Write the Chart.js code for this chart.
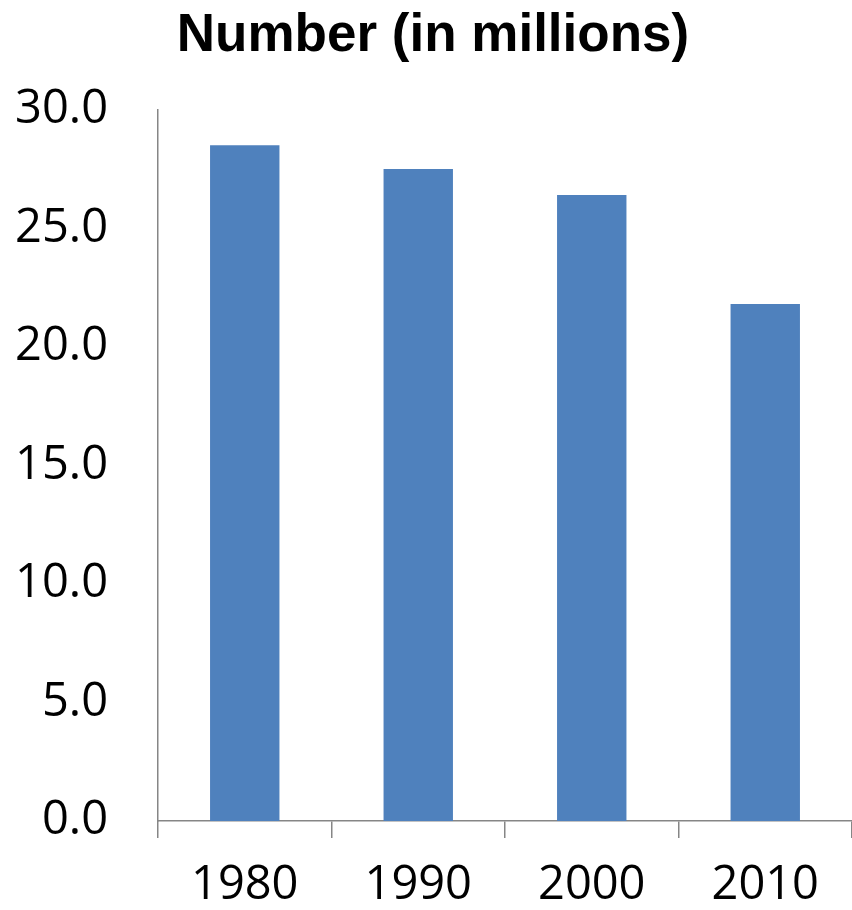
<!DOCTYPE html>
<html>
<head>
<meta charset="utf-8">
<title>Number (in millions)</title>
<script src="https://cdn.jsdelivr.net/npm/chart.js@4.4.1/dist/chart.umd.min.js"></script>
<style>
  html, body { margin: 0; padding: 0; background: #fff; overflow: hidden; }
  #wrap { width: 852px; height: 910px; position: relative; }
</style>
</head>
<body>
<div id="wrap"><canvas id="numChart"></canvas></div>
<script>
const years = ['1980', '1990', '2000', '2010'];
const numbers = [28.5, 27.5, 26.4, 21.8];
const yMin = 0;
const yMax = 30;
const yStep = 5;

const axisGray = '#868686';
const barBlue = '#4F81BD';

new Chart(document.getElementById('numChart'), {
  type: 'bar',
  data: {
    labels: years,
    datasets: [{
      label: 'Number (in millions)',
      data: numbers,
      backgroundColor: barBlue,
      barPercentage: 0.4,
      categoryPercentage: 1.0
    }]
  },
  options: {
    responsive: true,
    maintainAspectRatio: false,
    animation: false,
    layout: { padding: { left: 14, right: 0, top: 0, bottom: 0 } },
    plugins: {
      legend: { display: false },
      tooltip: { enabled: false },
      title: {
        display: true,
        text: 'Number (in millions)',
        color: '#000',
        font: { family: '"Liberation Sans", Arial, sans-serif', size: 53, weight: 'bold', lineHeight: 1.2 },
        padding: { top: 5, bottom: 41 }
      }
    },
    scales: {
      x: {
        offset: true,
        grid: {
          display: true,
          drawOnChartArea: false,
          drawTicks: true,
          tickLength: 17,
          color: axisGray,
          lineWidth: 1.5
        },
        border: { display: true, color: axisGray, width: 1.5 },
        ticks: {
          color: '#000',
          padding: 24,
          font: { family: '"Open Sans", sans-serif', size: 47, lineHeight: 1.0 }
        },
        afterFit: s => { s.height = 89; }
      },
      y: {
        min: yMin,
        max: yMax,
        grid: { display: false, drawTicks: false },
        border: { display: true, color: axisGray, width: 1.5 },
        ticks: {
          stepSize: yStep,
          color: '#000',
          padding: 50,
          font: { family: '"Open Sans", sans-serif', size: 47, lineHeight: 1.0 },
          callback: v => Number(v).toFixed(1)
        },
        afterFit: s => { s.width = 144; }
      }
    }
  }
});
</script>
</body>
</html>
